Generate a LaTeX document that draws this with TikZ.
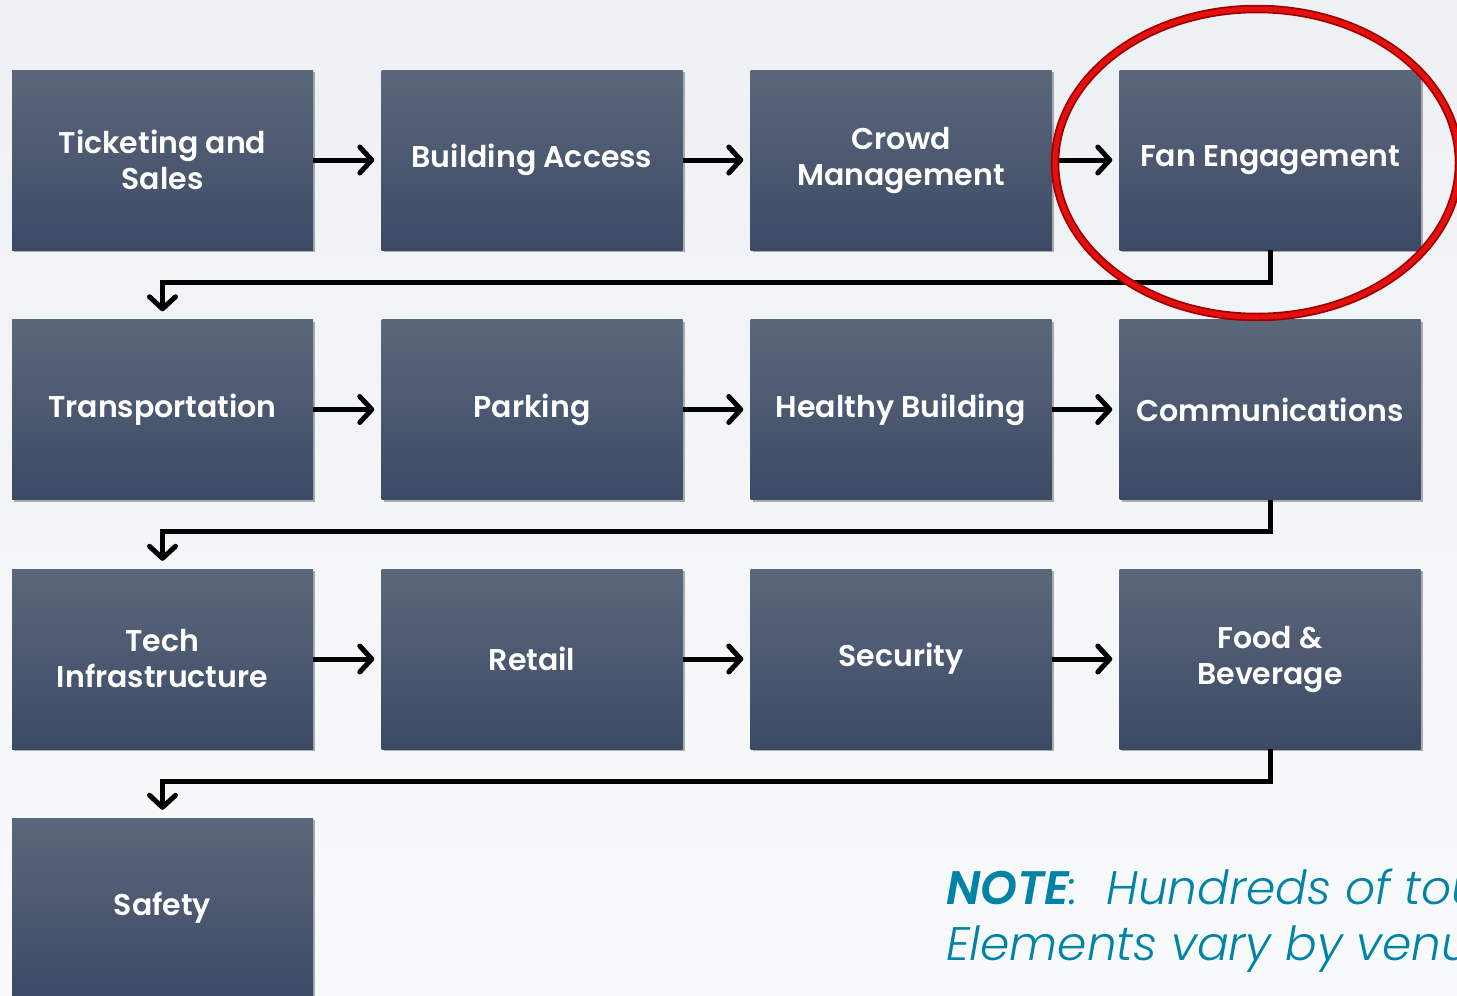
\documentclass[tikz,border=0pt]{standalone}
\usepackage{fontspec}
\setmainfont{Poppins}
\newfontfamily\boxfont{Poppins SemiBold}
\newfontfamily\notefont{Poppins Light Italic}
\newfontfamily\notebold{Poppins SemiBold Italic}
\usetikzlibrary{arrows.meta,shadows}
\definecolor{boxtop}{HTML}{5B677A}
\definecolor{boxbot}{HTML}{3C4A66}
\definecolor{noteteal}{HTML}{0083A6}
\definecolor{ringdark}{HTML}{A00000}
\definecolor{ringred}{HTML}{E31010}
\definecolor{bgtop}{HTML}{EEF1F4}
\definecolor{bgbot}{HTML}{F8FAFB}
\begin{document}
\begin{tikzpicture}[x=1pt,y=-1pt,
  stepbox/.style={rectangle, minimum width=301pt, minimum height=180pt,
    inner sep=0pt, top color=boxtop, bottom color=boxbot, draw=none,
    text=white, font=\boxfont\fontsize{30}{36}\selectfont, align=center,
    drop shadow={shadow xshift=2pt, shadow yshift=-2pt, opacity=0.3, fill=black}},
  flow/.style={line width=5pt, line join=miter,
    -{Straight Barb[length=12pt,width=26pt,line width=5pt,round]}},
]
\useasboundingbox (0,0) rectangle (1457,996);
\clip (0,0) rectangle (1457,996);
% page background
\shade[top color=bgtop, bottom color=bgbot] (0,0) rectangle (1457,996);

% process steps
\node[stepbox] (b1)  at (162.5,160)  {Ticketing and\\Sales};
\node[stepbox] (b2)  at (532,160)    {Building Access};
\node[stepbox] (b3)  at (901,160)    {Crowd\\Management};
\node[stepbox] (b4)  at (1270,160)   {Fan Engagement};
\node[stepbox] (b5)  at (162.5,409.5){Transportation};
\node[stepbox] (b6)  at (532,409.5)  {Parking};
\node[stepbox] (b7)  at (901,409.5)  {Healthy Building};
\node[stepbox] (b8)  at (1270,409.5) {Communications};
\node[stepbox] (b9)  at (162.5,659)  {Tech\\Infrastructure};
\node[stepbox] (b10) at (532,659)    {Retail};
\node[stepbox] (b11) at (901,659)    {Security};
\node[stepbox] (b12) at (1270,659)   {Food \&\\Beverage};
\node[stepbox] (b13) at (162.5,908)  {Safety};

% arrows along each row
\foreach \a/\b in {b1/b2,b2/b3,b3/b4,b5/b6,b6/b7,b7/b8,b9/b10,b10/b11,b11/b12}
  \draw[flow] (\a.east) -- ([xshift=-7pt]\b.west);

% return connectors to the next row
\foreach \a/\b in {b4/b5,b8/b9,b12/b13}
  \draw[flow] (\a.south) -- ++(0,32) -| ([yshift=8pt]\b.north);

% highlight ring
\draw[ringdark, line width=8.5pt] (1257,163) ellipse [x radius=202, y radius=154];
\draw[ringred, line width=5pt] (1257,163) ellipse [x radius=202, y radius=154];

% note
\node[anchor=base west, text=noteteal, align=left, inner sep=0pt,
  font=\notefont\fontsize{47}{56}\selectfont] (note) at (946,960)
  {{\notebold NOTE}:\ \ Hundreds of tou\\Elements vary by venu};
\end{tikzpicture}
\end{document}
